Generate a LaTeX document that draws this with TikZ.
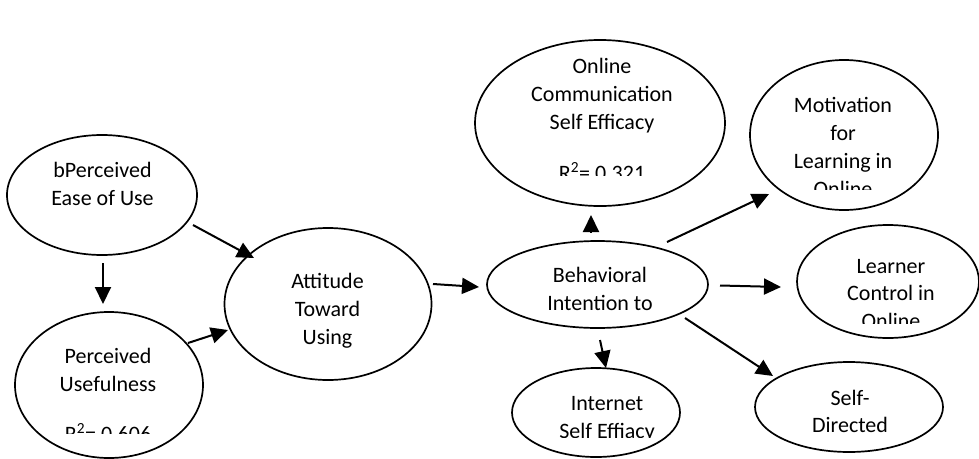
\documentclass[tikz,border=0pt]{standalone}
\usepackage{fontspec}
\setmainfont{Carlito}
\usetikzlibrary{shapes.geometric,arrows.meta}
\tikzset{
  ell/.style={draw, ellipse, line width=1.7pt, inner sep=0pt},
  lbl/.style={anchor=base, inner sep=0pt, font=\fontsize{22}{28}\selectfont},
  arr/.style={-{Triangle[length=17pt,width=16pt]}, line width=2pt}
}
\begin{document}
\begin{tikzpicture}[x=1pt,y=-1pt]
\useasboundingbox (0,0) rectangle (979,458);
% ellipses
\node[ell, minimum width=190pt, minimum height=120pt] (peou) at (102,195) {};
\node[ell, minimum width=188pt, minimum height=146pt] (pu) at (109,385) {};
\node[ell, minimum width=207pt, minimum height=152pt] (att) at (328,304) {};
\node[ell, minimum width=221pt, minimum height=87pt] (bi) at (597.5,284.5) {};
\node[ell, minimum width=250pt, minimum height=166pt] (ocse) at (600,123) {};
\node[ell, minimum width=188pt, minimum height=150pt] (mot) at (844,135) {};
\node[ell, minimum width=182pt, minimum height=113pt] (lc) at (888,281.5) {};
\node[ell, minimum width=188pt, minimum height=90pt] (sd) at (849,407) {};
\node[ell, minimum width=168pt, minimum height=89pt] (ise) at (596,412.5) {};
% labels
\node[lbl] (peou1) at (102.5,177) {bPerceived};
\node[lbl] (peou2) at (102.5,205) {Ease of Use};
\node[lbl] (pu1) at (108,363) {Perceived};
\node[lbl] (pu2) at (108,391) {Usefulness};
\begin{scope}
\clip (20,400) rectangle (200,433);
\node[lbl] (pu3) at (108,441) {R\textsuperscript{2}= 0.606};
\end{scope}
\node[lbl] (att1) at (327.5,288) {Attitude};
\node[lbl] (att2) at (327.5,316) {Toward};
\node[lbl] (att3) at (327.5,344) {Using};
\node[lbl] (bi1) at (600,282) {Behavioral};
\node[lbl] (bi2) at (600,310) {Intention to};
\node[lbl] (ocse1) at (602,73.5) {Online};
\node[lbl] (ocse2) at (602,101.5) {Communication};
\node[lbl] (ocse3) at (602,129) {Self Efficacy};
\begin{scope}
\clip (480,140) rectangle (720,175);
\node[lbl] (ocse4) at (602,180) {R\textsuperscript{2}= 0.321};
\end{scope}
\node[lbl] (mot1) at (843,112) {Motivation};
\node[lbl] (mot2) at (843,140) {for};
\node[lbl] (mot3) at (843,168) {Learning in};
\begin{scope}
\clip (760,172) rectangle (930,189);
\node[lbl] (mot4) at (843,196) {Online};
\end{scope}
\node[lbl] (lc1) at (891,273) {Learner};
\node[lbl] (lc2) at (891,300) {Control in};
\begin{scope}
\clip (800,305) rectangle (975,323);
\node[lbl] (lc3) at (891,328) {Online};
\end{scope}
\node[lbl] (sd1) at (850,405) {Self-};
\node[lbl] (sd2) at (850,432) {Directed};
\node[lbl] (ise1) at (607,410) {Internet};
\begin{scope}
\clip (520,415) rectangle (680,437);
\node[lbl] (ise2) at (607,438) {Self Effiacy};
\end{scope}
% arrow end points
\coordinate (a1s) at (193,225); \coordinate (a1e) at (254,258);
\coordinate (a2s) at (103,263); \coordinate (a2e) at (103,304);
\coordinate (a3s) at (188,343); \coordinate (a3e) at (228,330);
\coordinate (a4s) at (433,284); \coordinate (a4e) at (479,287);
\coordinate (a5s) at (591,232); \coordinate (a5e) at (591,215);
\coordinate (a6s) at (667,242); \coordinate (a6e) at (769,194);
\coordinate (a7s) at (720,285.5); \coordinate (a7e) at (781,287);
\coordinate (a8s) at (685,318); \coordinate (a8e) at (773,376);
\coordinate (a9s) at (600,340); \coordinate (a9e) at (606,368);
\draw[arr] (a1s) -- (a1e);
\draw[arr] (a2s) -- (a2e);
\draw[arr] (a3s) -- (a3e);
\draw[arr] (a4s) -- (a4e);
\draw[arr] (a5s) -- (a5e);
\draw[arr] (a6s) -- (a6e);
\draw[arr] (a7s) -- (a7e);
\draw[arr] (a8s) -- (a8e);
\draw[arr] (a9s) -- (a9e);
\end{tikzpicture}
\end{document}
